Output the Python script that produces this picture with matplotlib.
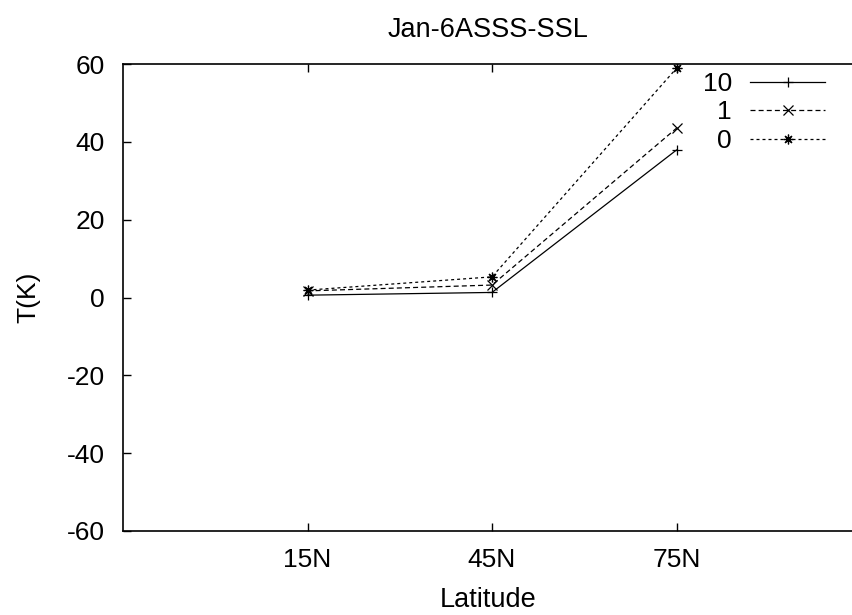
import matplotlib
matplotlib.use("Agg")
import matplotlib.pyplot as plt

plt.rcParams['font.family'] = ['Liberation Sans', 'DejaVu Sans']
plt.rcParams['axes.unicode_minus'] = False

latitudes = ["15N", "45N", "75N"]
series_labels = ["10", "1", "0"]
vals_10 = [0.6, 1.3, 37.9]
vals_1 = [1.7, 3.2, 43.5]
vals_0 = [1.9, 5.3, 58.9]

W, H = 853, 615
fig = plt.figure(figsize=(W/100, H/100), dpi=100)
L, R, T, B = 123, 861, 64, 531
ax = fig.add_axes([L/W, 1-B/H, (R-L)/W, (B-T)/H])

x = list(range(len(latitudes)))
lw = 0.9
ax.plot(x, vals_10, color='black', lw=lw, marker='+', ms=7, mew=0.9, label=series_labels[0])
ax.plot(x, vals_1, color='black', lw=lw, ls=(0, (4, 2.5)), marker='x', ms=6.5, mew=0.9, label=series_labels[1])
ax.plot(x, vals_0, color='black', lw=lw, ls=(0, (2.4, 2.4)), marker=(8, 2, 0), ms=7, mew=0.9, label=series_labels[2])

ax.set_xlim(-1, 3)
ax.set_ylim(-60, 60)
ax.set_xticks(x)
ax.set_xticklabels(latitudes)
ax.set_yticks(range(-60, 61, 20))
ax.tick_params(direction='in', length=6, width=1.0, top=True, right=True, labelsize=19, colors='black')
ax.tick_params(axis='y', pad=13)
ax.tick_params(axis='x', pad=12)
for s in ax.spines.values():
    s.set_linewidth(1.2)

ax.set_ylabel("T(K)", fontsize=19, labelpad=19)
fig.text(488/W, 1-607/H, "Latitude", fontsize=19.5, ha='center', va='baseline')
fig.text(488/W, 1-37/H, "Jan-6ASSS-SSL", fontsize=19.5, ha='center', va='baseline')

leg = ax.legend(loc='upper right', bbox_to_anchor=(825/W, 1-72/H), bbox_transform=fig.transFigure,
                frameon=False, markerfirst=False, fontsize=19, handlelength=2.84,
                labelspacing=0.17, handletextpad=0.68, borderaxespad=0, borderpad=0)
for t in leg.get_texts():
    t.set_ha('right')
leg._legend_box.align = "right"

fig.savefig("out.png", dpi=100)
